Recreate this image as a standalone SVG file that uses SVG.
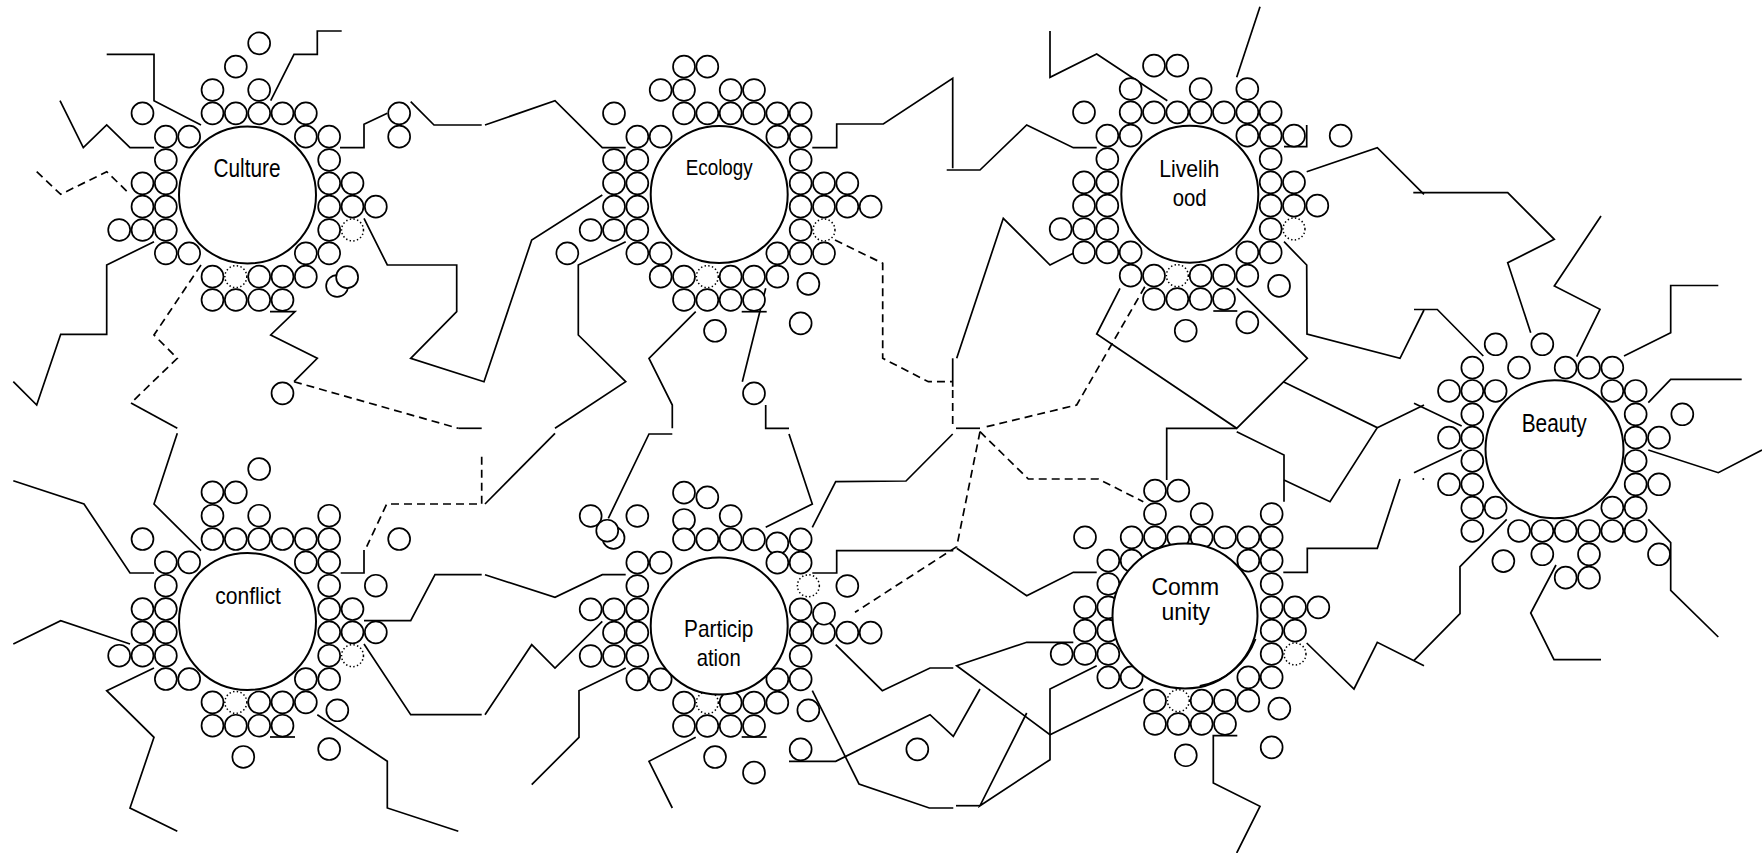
<svg xmlns="http://www.w3.org/2000/svg" width="1762" height="853" viewBox="0 0 1762 853">
<style>
.ln{fill:none;stroke:#000;stroke-width:1.7;stroke-linejoin:miter}
.dl{fill:none;stroke:#000;stroke-width:1.7;stroke-dasharray:8 5}
.sc circle{fill:#fff;stroke:#000;stroke-width:.073}
.sc circle.d{stroke-width:.065;stroke-dasharray:.06 .1}
.m{fill:#fff;stroke:#000;stroke-width:2}
.t{font-family:"Liberation Sans",Arial,sans-serif;fill:#000;text-anchor:middle}
</style>
<rect width="1762" height="853" fill="#fff"/>
<g id="connectors">
<polyline class="ln" points="106.7,54.3 154,54.3 154,100.7 201,125"/>
<polyline class="ln" points="341.7,31 317.3,31 317.3,54.3 294,54.3 270.7,100.7"/>
<polyline class="ln" points="60,100.7 83.3,147.7 106.7,125 130,147.7 154,147.7"/>
<polyline class="dl" points="36.7,171.7 60.7,194.3 106.7,171.7 130,194.3"/>
<polyline class="ln" points="340,147.7 364,147.7 364,124.3 387.3,113.3"/>
<polyline class="ln" points="410.7,101.7 434,125 481.7,125"/>
<polyline class="ln" points="485,125 555,100.7 602.3,147.7 625.7,147.7"/>
<polyline class="ln" points="364,218.3 387.3,265 456.7,265 456.7,311.7 410.7,358.3 484,381.7 531.7,240 602.3,195"/>
<polyline class="ln" points="154,241.7 106.7,265 106.7,334.3 60.7,334.3 36.7,405 13.3,381.7"/>
<polyline class="dl" points="201,265 154,335 177.3,358.3 131,403"/>
<polyline class="ln" points="131,403 177.3,428.3"/>
<polyline class="ln" points="177.3,433.3 154,504 201,550.7"/>
<polyline class="ln" points="270,311.7 295,311.7 270.7,335 317.3,358.3 294,381.7"/>
<polyline class="dl" points="294,381.7 458.3,428.3"/>
<polyline class="ln" points="458.3,428.3 481.7,428.3"/>
<polyline class="dl" points="481.7,456.7 481.7,504 386.7,504 366.7,546.7"/>
<polyline class="ln" points="364,550 364,573 340.7,573"/>
<polyline class="ln" points="625.7,241.7 578.3,265 578.3,335 625.7,381.7 555,428.3"/>
<polyline class="ln" points="555,433.3 485,504"/>
<polyline class="ln" points="695.7,311.7 649,358.3 672.3,405 672.3,428.3"/>
<polyline class="ln" points="672.3,434 649,434 608.3,518.3"/>
<polyline class="ln" points="765.7,288.3 742.3,381.7"/>
<polyline class="ln" points="741.7,311.7 766.7,311.7"/>
<polyline class="ln" points="765.7,405 765.7,428.3 789,428.3"/>
<polyline class="ln" points="789,434 812.3,504 765.7,527.3"/>
<polyline class="ln" points="812.3,527.3 835.7,481.7 906,481 952.7,434"/>
<polyline class="dl" points="835,240 882.7,263.3 882.7,358.3 928.3,381.7 952.7,381.7"/>
<polyline class="ln" points="1073.3,253.3 1050,265 1003.3,218.3 956.7,358.3"/>
<polyline class="ln" points="952.7,358.3 952.7,386.7"/>
<polyline class="dl" points="952.7,390 952.7,428.3"/>
<polyline class="ln" points="956,428.3 980,428.3"/>
<polyline class="ln" points="812.3,147.7 836.7,147.7 836.7,124 883.3,124 952.7,78.3 952.7,168.3"/>
<polyline class="ln" points="946.7,170 980,170 1026.7,125 1073.3,147.7 1096.7,147.7"/>
<polyline class="ln" points="1050,31 1050,77.3 1096.7,54 1167.3,100.7"/>
<polyline class="ln" points="1236.7,77.3 1260,6.7"/>
<polyline class="ln" points="1306.7,125 1306.7,146.7 1284,146.7"/>
<polyline class="ln" points="1213.3,311 1237.3,311"/>
<polyline class="ln" points="1306.7,171.7 1377.3,147.7 1424,194.3"/>
<polyline class="ln" points="1413.3,192.7 1507.7,192.7 1554.3,239.3 1507.7,262.7 1530.7,332.7"/>
<polyline class="ln" points="1601,216 1554.3,286 1600,309.3 1576.7,356.7"/>
<polyline class="ln" points="1718.3,285.5 1670.7,285.5 1670.7,332.7 1624,356"/>
<polyline class="ln" points="1648.3,402.7 1670.7,379.3 1741.7,379.3"/>
<polyline class="ln" points="1648.3,450 1718.3,472.7 1762,450"/>
<polyline class="ln" points="1648.3,519.3 1670.7,542.7 1670.7,590.3 1718.3,637"/>
<polyline class="ln" points="1556,565 1530.7,613 1554,659.7 1601,659.7"/>
<polyline class="ln" points="1506.7,519.3 1460,566.7 1460,613.7 1414,660.3"/>
<polyline class="ln" points="1306.7,643 1354,689 1377.3,642.3 1424,665.7"/>
<polyline class="ln" points="1284,241.7 1306.7,265 1307,334 1400,358.3 1424,310"/>
<polyline class="ln" points="1414,309.5 1437.3,309.5 1483.3,356"/>
<polyline class="ln" points="1236.7,431.7 1284,455 1284,501.7"/>
<polyline class="ln" points="1284,480 1330,501.7 1377.3,427.7 1283.3,381.7"/>
<polyline class="ln" points="1377.3,427.7 1424,405"/>
<polyline class="ln" points="1414,403.3 1461.7,426"/>
<polyline class="ln" points="1120,288.3 1096.7,334 1236.7,428.3 1307.3,358.3 1236.7,288.3"/>
<polyline class="ln" points="1166.7,480 1166.7,428.3 1236.7,428.3"/>
<polyline class="ln" points="1400,479 1377.3,548.3 1307.3,548.3 1307.3,572.3 1283.3,572.3"/>
<polyline class="ln" points="1414,472.7 1461.7,450"/>
<polyline class="ln" points="13.3,480.7 84,504 130,573 154,573"/>
<polyline class="ln" points="13.3,644 60.7,620.7 130,644"/>
<polyline class="ln" points="154,668 106.7,690.7 154,737.3 130,808 177.3,831.3"/>
<polyline class="ln" points="270,737 295,737"/>
<polyline class="ln" points="364,620.7 410.7,620.7 435,574.7 481.7,574.7"/>
<polyline class="ln" points="485,574.7 555,597.3 602.3,574.7 625.7,574.7"/>
<polyline class="ln" points="364,644 410.7,714.7 481.7,714.7"/>
<polyline class="ln" points="485,714.7 531.7,644.7 555,668 602.3,621.3"/>
<polyline class="ln" points="317.3,714.7 387.3,761.3 387.3,808 458.3,831.3"/>
<polyline class="ln" points="625.7,668 579,690.7 579,737.3 531.7,784.7"/>
<polyline class="ln" points="695.7,737.3 649,761.3 672.3,808"/>
<polyline class="ln" points="741.7,737 766.7,737"/>
<polyline class="ln" points="789,761.3 835.7,761.3 930,714.7 953.3,736.3 980,689"/>
<polyline class="ln" points="812.3,690.7 859,784 929.3,808 953.3,808"/>
<polyline class="ln" points="956,805.7 980,805.7"/>
<polyline class="ln" points="835.7,644.7 882.3,690.7 930,668 953.3,668"/>
<polyline class="ln" points="1073.3,642.3 1026.7,642.3 956.7,665.7 1050,734.7 1143.3,689"/>
<polyline class="ln" points="1096.7,665.7 1050,689 1050,759.7 980,805.7 1026.7,713"/>
<polyline class="ln" points="1237.3,735.7 1213.3,735.7 1213.3,783 1260,806.3 1236.7,853"/>
<polyline class="ln" points="812.3,573 836.7,573 836.7,550.7 953.3,550.7"/>
<polyline class="ln" points="956.7,548.3 1026.7,595.7 1073.3,572.3 1096.7,572.3"/>
<polyline class="dl" points="980,431.7 956.7,546.7 855,612.3"/>
<polyline class="dl" points="986.7,426.7 1076.7,405 1147,283"/>
<polyline class="dl" points="980,431.7 1028.3,479 1098.3,479 1143.3,501.7"/>
</g>
<g id="node-culture">
<g class="sc" transform="translate(247.5,195) scale(23.333)">
<circle cx=".5" cy="-6.5" r=".47"/>
<circle cx="-.5" cy="-5.5" r=".47"/>
<circle cx="-1.5" cy="-4.5" r=".47"/><circle cx=".5" cy="-4.5" r=".47"/>
<circle cx="-4.5" cy="-3.5" r=".47"/><circle cx="-1.5" cy="-3.5" r=".47"/><circle cx="-.5" cy="-3.5" r=".47"/><circle cx=".5" cy="-3.5" r=".47"/><circle cx="1.5" cy="-3.5" r=".47"/><circle cx="2.5" cy="-3.5" r=".47"/><circle cx="6.5" cy="-3.5" r=".47"/>
<circle cx="-3.5" cy="-2.5" r=".47"/><circle cx="-2.5" cy="-2.5" r=".47"/><circle cx="2.5" cy="-2.5" r=".47"/><circle cx="3.5" cy="-2.5" r=".47"/><circle cx="6.5" cy="-2.5" r=".47"/>
<circle cx="-3.5" cy="-1.5" r=".47"/><circle cx="3.5" cy="-1.5" r=".47"/>
<circle cx="-4.5" cy="-.5" r=".47"/><circle cx="-3.5" cy="-.5" r=".47"/><circle cx="3.5" cy="-.5" r=".47"/><circle cx="4.5" cy="-.5" r=".47"/>
<circle cx="-4.5" cy=".5" r=".47"/><circle cx="-3.5" cy=".5" r=".47"/><circle cx="3.5" cy=".5" r=".47"/><circle cx="4.5" cy=".5" r=".47"/><circle cx="5.5" cy=".5" r=".47"/>
<circle cx="-5.5" cy="1.5" r=".47"/><circle cx="-4.5" cy="1.5" r=".47"/><circle cx="-3.5" cy="1.5" r=".47"/><circle cx="3.5" cy="1.5" r=".47"/><circle class="d" cx="4.5" cy="1.5" r=".47"/>
<circle cx="-3.5" cy="2.5" r=".47"/><circle cx="-2.5" cy="2.5" r=".47"/><circle cx="2.5" cy="2.5" r=".47"/><circle cx="3.5" cy="2.5" r=".47"/>
<circle cx="-1.5" cy="3.5" r=".47"/><circle class="d" cx="-.5" cy="3.5" r=".47"/><circle cx=".5" cy="3.5" r=".47"/><circle cx="1.5" cy="3.5" r=".47"/><circle cx="2.5" cy="3.5" r=".47"/>
<circle cx="-1.5" cy="4.5" r=".47"/><circle cx="-.5" cy="4.5" r=".47"/><circle cx=".5" cy="4.5" r=".47"/><circle cx="1.5" cy="4.5" r=".47"/>
<circle cx="3.84" cy="3.9" r=".47"/><circle cx="4.27" cy="3.52" r=".47"/><circle cx="1.5" cy="8.5" r=".47"/>
</g>
<circle class="m" cx="247.5" cy="195" r="68.5"/>
<text class="t" x="247" y="177" font-size="25" textLength="67" lengthAdjust="spacingAndGlyphs">Culture</text>
</g>
<g id="node-ecology">
<g class="sc" transform="translate(719,195) scale(23.333)">
<circle cx="-1.5" cy="-5.5" r=".47"/><circle cx="-.5" cy="-5.5" r=".47"/>
<circle cx="-2.5" cy="-4.5" r=".47"/><circle cx="-1.5" cy="-4.5" r=".47"/><circle cx=".5" cy="-4.5" r=".47"/><circle cx="1.5" cy="-4.5" r=".47"/>
<circle cx="-4.5" cy="-3.5" r=".47"/><circle cx="-1.5" cy="-3.5" r=".47"/><circle cx="-.5" cy="-3.5" r=".47"/><circle cx=".5" cy="-3.5" r=".47"/><circle cx="1.5" cy="-3.5" r=".47"/><circle cx="2.5" cy="-3.5" r=".47"/><circle cx="3.5" cy="-3.5" r=".47"/>
<circle cx="-3.5" cy="-2.5" r=".47"/><circle cx="-2.5" cy="-2.5" r=".47"/><circle cx="2.5" cy="-2.5" r=".47"/><circle cx="3.5" cy="-2.5" r=".47"/>
<circle cx="-4.5" cy="-1.5" r=".47"/><circle cx="-3.5" cy="-1.5" r=".47"/><circle cx="3.5" cy="-1.5" r=".47"/>
<circle cx="-4.5" cy="-.5" r=".47"/><circle cx="-3.5" cy="-.5" r=".47"/><circle cx="3.5" cy="-.5" r=".47"/><circle cx="4.5" cy="-.5" r=".47"/><circle cx="5.5" cy="-.5" r=".47"/>
<circle cx="-4.5" cy=".5" r=".47"/><circle cx="-3.5" cy=".5" r=".47"/><circle cx="3.5" cy=".5" r=".47"/><circle cx="4.5" cy=".5" r=".47"/><circle cx="5.5" cy=".5" r=".47"/><circle cx="6.5" cy=".5" r=".47"/>
<circle cx="-5.5" cy="1.5" r=".47"/><circle cx="-4.5" cy="1.5" r=".47"/><circle cx="-3.5" cy="1.5" r=".47"/><circle cx="3.5" cy="1.5" r=".47"/><circle class="d" cx="4.5" cy="1.5" r=".47"/>
<circle cx="-6.5" cy="2.5" r=".47"/><circle cx="-3.5" cy="2.5" r=".47"/><circle cx="-2.5" cy="2.5" r=".47"/><circle cx="2.5" cy="2.5" r=".47"/><circle cx="3.5" cy="2.5" r=".47"/><circle cx="4.5" cy="2.5" r=".47"/>
<circle cx="-2.5" cy="3.5" r=".47"/><circle cx="-1.5" cy="3.5" r=".47"/><circle class="d" cx="-.5" cy="3.5" r=".47"/><circle cx=".5" cy="3.5" r=".47"/><circle cx="1.5" cy="3.5" r=".47"/><circle cx="2.5" cy="3.5" r=".47"/>
<circle cx="-1.5" cy="4.5" r=".47"/><circle cx="-.5" cy="4.5" r=".47"/><circle cx=".5" cy="4.5" r=".47"/><circle cx="1.5" cy="4.5" r=".47"/>
<circle cx="3.83" cy="3.81" r=".47"/><circle cx="3.5" cy="5.5" r=".47"/><circle cx="-.17" cy="5.82" r=".47"/><circle cx="1.5" cy="8.5" r=".47"/>
</g>
<circle class="m" cx="719.2" cy="194.5" r="68.5"/>
<text class="t" x="719.2" y="175" font-size="22" textLength="67" lengthAdjust="spacingAndGlyphs">Ecology</text>
</g>
<g id="node-livelihood">
<g class="sc" transform="translate(1189,194) scale(23.333)">
<circle cx="-1.5" cy="-5.5" r=".47"/><circle cx="-.5" cy="-5.5" r=".47"/>
<circle cx="-2.5" cy="-4.5" r=".47"/><circle cx=".5" cy="-4.5" r=".47"/><circle cx="2.5" cy="-4.5" r=".47"/>
<circle cx="-4.5" cy="-3.5" r=".47"/><circle cx="-2.5" cy="-3.5" r=".47"/><circle cx="-1.5" cy="-3.5" r=".47"/><circle cx="-.5" cy="-3.5" r=".47"/><circle cx=".5" cy="-3.5" r=".47"/><circle cx="1.5" cy="-3.5" r=".47"/><circle cx="2.5" cy="-3.5" r=".47"/><circle cx="3.5" cy="-3.5" r=".47"/>
<circle cx="-3.5" cy="-2.5" r=".47"/><circle cx="-2.5" cy="-2.5" r=".47"/><circle cx="2.5" cy="-2.5" r=".47"/><circle cx="3.5" cy="-2.5" r=".47"/><circle cx="4.5" cy="-2.5" r=".47"/><circle cx="6.5" cy="-2.5" r=".47"/>
<circle cx="-3.5" cy="-1.5" r=".47"/><circle cx="3.5" cy="-1.5" r=".47"/>
<circle cx="-4.5" cy="-.5" r=".47"/><circle cx="-3.5" cy="-.5" r=".47"/><circle cx="3.5" cy="-.5" r=".47"/><circle cx="4.5" cy="-.5" r=".47"/>
<circle cx="-4.5" cy=".5" r=".47"/><circle cx="-3.5" cy=".5" r=".47"/><circle cx="3.5" cy=".5" r=".47"/><circle cx="4.5" cy=".5" r=".47"/><circle cx="5.5" cy=".5" r=".47"/>
<circle cx="-5.5" cy="1.5" r=".47"/><circle cx="-4.5" cy="1.5" r=".47"/><circle cx="-3.5" cy="1.5" r=".47"/><circle cx="3.5" cy="1.5" r=".47"/><circle class="d" cx="4.5" cy="1.5" r=".47"/>
<circle cx="-4.5" cy="2.5" r=".47"/><circle cx="-3.5" cy="2.5" r=".47"/><circle cx="-2.5" cy="2.5" r=".47"/><circle cx="2.5" cy="2.5" r=".47"/><circle cx="3.5" cy="2.5" r=".47"/>
<circle cx="-2.5" cy="3.5" r=".47"/><circle cx="-1.5" cy="3.5" r=".47"/><circle class="d" cx="-.5" cy="3.5" r=".47"/><circle cx=".5" cy="3.5" r=".47"/><circle cx="1.5" cy="3.5" r=".47"/><circle cx="2.5" cy="3.5" r=".47"/>
<circle cx="-1.5" cy="4.5" r=".47"/><circle cx="-.5" cy="4.5" r=".47"/><circle cx=".5" cy="4.5" r=".47"/><circle cx="1.5" cy="4.5" r=".47"/>
<circle cx="3.86" cy="3.94" r=".47"/><circle cx="2.5" cy="5.5" r=".47"/><circle cx="-.14" cy="5.86" r=".47"/>
</g>
<circle class="m" cx="1189.8" cy="194.2" r="68.5"/>
<text class="t" x="1189.3" y="176.7" font-size="24" textLength="60" lengthAdjust="spacingAndGlyphs">Livelih</text>
<text class="t" x="1189.7" y="206" font-size="24" textLength="34" lengthAdjust="spacingAndGlyphs">ood</text>
</g>
<g id="node-beauty">
<g class="sc" transform="translate(1554,449.3) scale(23.333)">
<circle cx="-2.5" cy="-4.5" r=".47"/><circle cx="-.5" cy="-4.5" r=".47"/>
<circle cx="-3.5" cy="-3.5" r=".47"/><circle cx="-1.5" cy="-3.5" r=".47"/><circle cx=".5" cy="-3.5" r=".47"/><circle cx="1.5" cy="-3.5" r=".47"/><circle cx="2.5" cy="-3.5" r=".47"/>
<circle cx="-4.5" cy="-2.5" r=".47"/><circle cx="-3.5" cy="-2.5" r=".47"/><circle cx="-2.5" cy="-2.5" r=".47"/><circle cx="2.5" cy="-2.5" r=".47"/><circle cx="3.5" cy="-2.5" r=".47"/>
<circle cx="-3.5" cy="-1.5" r=".47"/><circle cx="3.5" cy="-1.5" r=".47"/><circle cx="5.5" cy="-1.5" r=".47"/>
<circle cx="-4.5" cy="-.5" r=".47"/><circle cx="-3.5" cy="-.5" r=".47"/><circle cx="3.5" cy="-.5" r=".47"/><circle cx="4.5" cy="-.5" r=".47"/>
<circle cx="-3.5" cy=".5" r=".47"/><circle cx="3.5" cy=".5" r=".47"/>
<circle cx="-4.5" cy="1.5" r=".47"/><circle cx="-3.5" cy="1.5" r=".47"/><circle cx="3.5" cy="1.5" r=".47"/><circle cx="4.5" cy="1.5" r=".47"/>
<circle cx="-3.5" cy="2.5" r=".47"/><circle cx="-2.5" cy="2.5" r=".47"/><circle cx="2.5" cy="2.5" r=".47"/><circle cx="3.5" cy="2.5" r=".47"/>
<circle cx="-3.5" cy="3.5" r=".47"/><circle cx="-1.5" cy="3.5" r=".47"/><circle cx="-.5" cy="3.5" r=".47"/><circle cx=".5" cy="3.5" r=".47"/><circle cx="1.5" cy="3.5" r=".47"/><circle cx="2.5" cy="3.5" r=".47"/><circle cx="3.5" cy="3.5" r=".47"/>
<circle cx="-.5" cy="4.5" r=".47"/><circle cx="1.5" cy="4.5" r=".47"/><circle cx="4.5" cy="4.5" r=".47"/>
<circle cx=".5" cy="5.5" r=".47"/><circle cx="1.5" cy="5.5" r=".47"/>
<circle cx="-2.17" cy="4.79" r=".47"/>
</g>
<circle class="m" cx="1554.5" cy="449.3" r="69"/>
<circle cx="1423.3" cy="479" r="1" fill="#000"/>
<text class="t" x="1554.2" y="431.7" font-size="25.5" textLength="65" lengthAdjust="spacingAndGlyphs">Beauty</text>
</g>
<g id="node-conflict">
<g class="sc" transform="translate(247.5,620.7) scale(23.333)">
<circle cx=".5" cy="-6.5" r=".47"/>
<circle cx="-1.5" cy="-5.5" r=".47"/><circle cx="-.5" cy="-5.5" r=".47"/>
<circle cx="-1.5" cy="-4.5" r=".47"/><circle cx=".5" cy="-4.5" r=".47"/><circle cx="3.5" cy="-4.5" r=".47"/>
<circle cx="-4.5" cy="-3.5" r=".47"/><circle cx="-1.5" cy="-3.5" r=".47"/><circle cx="-.5" cy="-3.5" r=".47"/><circle cx=".5" cy="-3.5" r=".47"/><circle cx="1.5" cy="-3.5" r=".47"/><circle cx="2.5" cy="-3.5" r=".47"/><circle cx="3.5" cy="-3.5" r=".47"/><circle cx="6.5" cy="-3.5" r=".47"/>
<circle cx="-3.5" cy="-2.5" r=".47"/><circle cx="-2.5" cy="-2.5" r=".47"/><circle cx="2.5" cy="-2.5" r=".47"/><circle cx="3.5" cy="-2.5" r=".47"/>
<circle cx="-3.5" cy="-1.5" r=".47"/><circle cx="3.5" cy="-1.5" r=".47"/><circle cx="5.5" cy="-1.5" r=".47"/>
<circle cx="-4.5" cy="-.5" r=".47"/><circle cx="-3.5" cy="-.5" r=".47"/><circle cx="3.5" cy="-.5" r=".47"/><circle cx="4.5" cy="-.5" r=".47"/>
<circle cx="-4.5" cy=".5" r=".47"/><circle cx="-3.5" cy=".5" r=".47"/><circle cx="3.5" cy=".5" r=".47"/><circle cx="4.5" cy=".5" r=".47"/><circle cx="5.5" cy=".5" r=".47"/>
<circle cx="-5.5" cy="1.5" r=".47"/><circle cx="-4.5" cy="1.5" r=".47"/><circle cx="-3.5" cy="1.5" r=".47"/><circle cx="3.5" cy="1.5" r=".47"/><circle class="d" cx="4.5" cy="1.5" r=".47"/>
<circle cx="-3.5" cy="2.5" r=".47"/><circle cx="-2.5" cy="2.5" r=".47"/><circle cx="2.5" cy="2.5" r=".47"/><circle cx="3.5" cy="2.5" r=".47"/>
<circle cx="-1.5" cy="3.5" r=".47"/><circle class="d" cx="-.5" cy="3.5" r=".47"/><circle cx=".5" cy="3.5" r=".47"/><circle cx="1.5" cy="3.5" r=".47"/><circle cx="2.5" cy="3.5" r=".47"/>
<circle cx="-1.5" cy="4.5" r=".47"/><circle cx="-.5" cy="4.5" r=".47"/><circle cx=".5" cy="4.5" r=".47"/><circle cx="1.5" cy="4.5" r=".47"/>
<circle cx="3.85" cy="3.84" r=".47"/><circle cx="-.18" cy="5.84" r=".47"/><circle cx="3.5" cy="5.5" r=".47"/>
</g>
<circle class="m" cx="247.5" cy="621.5" r="68.5"/>
<text class="t" x="248" y="603.7" font-size="24.5" textLength="65.7" lengthAdjust="spacingAndGlyphs">conflict</text>
</g>
<g id="node-participation">
<g class="sc" transform="translate(719,621) scale(23.333)">
<circle cx="-1.5" cy="-5.5" r=".47"/><circle cx="-.5" cy="-5.3" r=".47"/>
<circle cx="-1.5" cy="-4.33" r=".47"/><circle cx=".5" cy="-4.5" r=".47"/><circle cx="-3.5" cy="-4.5" r=".47"/>
<circle cx="-4.52" cy="-3.56" r=".47"/><circle cx="-5.5" cy="-4.5" r=".47"/><circle cx="-4.79" cy="-3.87" r=".47"/>
<circle cx="-1.5" cy="-3.5" r=".47"/><circle cx="-.5" cy="-3.5" r=".47"/><circle cx=".5" cy="-3.5" r=".47"/><circle cx="1.5" cy="-3.5" r=".47"/><circle cx="3.5" cy="-3.5" r=".47"/><circle cx="2.5" cy="-3.33" r=".47"/>
<circle cx="-3.5" cy="-2.5" r=".47"/><circle cx="-2.5" cy="-2.5" r=".47"/><circle cx="2.5" cy="-2.5" r=".47"/><circle cx="3.5" cy="-2.5" r=".47"/>
<circle cx="-3.5" cy="-1.5" r=".47"/><circle cx="5.5" cy="-1.5" r=".47"/><circle class="d" cx="3.83" cy="-1.51" r=".47"/>
<circle cx="-5.5" cy="-.5" r=".47"/><circle cx="-4.5" cy="-.5" r=".47"/><circle cx="-3.5" cy="-.5" r=".47"/><circle cx="3.5" cy="-.5" r=".47"/>
<circle cx="-4.5" cy=".5" r=".47"/><circle cx="-3.5" cy=".5" r=".47"/><circle cx="3.5" cy=".5" r=".47"/><circle cx="4.5" cy=".5" r=".47"/><circle cx="5.5" cy=".5" r=".47"/><circle cx="6.5" cy=".5" r=".47"/>
<circle cx="4.5" cy="-.31" r=".47"/>
<circle cx="-5.5" cy="1.5" r=".47"/><circle cx="-4.5" cy="1.5" r=".47"/><circle cx="-3.5" cy="1.5" r=".47"/><circle cx="3.5" cy="1.5" r=".47"/>
<circle cx="-3.5" cy="2.5" r=".47"/><circle cx="-2.5" cy="2.5" r=".47"/><circle cx="2.5" cy="2.5" r=".47"/><circle cx="3.5" cy="2.5" r=".47"/>
<circle cx="-1.5" cy="3.5" r=".47"/><circle class="d" cx="-.5" cy="3.5" r=".47"/><circle cx=".5" cy="3.5" r=".47"/><circle cx="1.5" cy="3.5" r=".47"/><circle cx="2.5" cy="3.5" r=".47"/><circle cx="3.83" cy="3.83" r=".47"/>
<circle cx="-1.5" cy="4.5" r=".47"/><circle cx="-.5" cy="4.5" r=".47"/><circle cx=".5" cy="4.5" r=".47"/><circle cx="1.5" cy="4.5" r=".47"/>
<circle cx="-.17" cy="5.83" r=".47"/><circle cx="1.5" cy="6.5" r=".47"/><circle cx="3.5" cy="5.5" r=".47"/><circle cx="8.5" cy="5.5" r=".47"/>
</g>
<circle class="m" cx="719.2" cy="626" r="68.5"/>
<text class="t" x="718.7" y="637" font-size="24" textLength="69.3" lengthAdjust="spacingAndGlyphs">Particip</text>
<text class="t" x="718.7" y="666.3" font-size="24" textLength="44" lengthAdjust="spacingAndGlyphs">ation</text>
</g>
<g id="node-community">
<g class="sc" transform="translate(1190,619) scale(23.333)">
<circle cx="-1.5" cy="-5.5" r=".47"/><circle cx="-.5" cy="-5.5" r=".47"/>
<circle cx="-1.5" cy="-4.5" r=".47"/><circle cx=".5" cy="-4.5" r=".47"/><circle cx="3.5" cy="-4.5" r=".47"/>
<circle cx="-4.5" cy="-3.5" r=".47"/><circle cx="-2.5" cy="-3.5" r=".47"/><circle cx="-1.5" cy="-3.5" r=".47"/><circle cx="-.5" cy="-3.5" r=".47"/><circle cx=".5" cy="-3.5" r=".47"/><circle cx="1.5" cy="-3.5" r=".47"/><circle cx="2.5" cy="-3.5" r=".47"/><circle cx="3.5" cy="-3.5" r=".47"/>
<circle cx="-3.5" cy="-2.5" r=".47"/><circle cx="-2.5" cy="-2.5" r=".47"/><circle cx="2.5" cy="-2.5" r=".47"/><circle cx="3.5" cy="-2.5" r=".47"/>
<circle cx="-3.5" cy="-1.5" r=".47"/><circle cx="3.5" cy="-1.5" r=".47"/>
<circle cx="-4.5" cy="-.5" r=".47"/><circle cx="-3.5" cy="-.5" r=".47"/><circle cx="3.5" cy="-.5" r=".47"/><circle cx="4.5" cy="-.5" r=".47"/><circle cx="5.5" cy="-.5" r=".47"/>
<circle cx="-4.5" cy=".5" r=".47"/><circle cx="-3.5" cy=".5" r=".47"/><circle cx="3.5" cy=".5" r=".47"/><circle cx="4.5" cy=".5" r=".47"/>
<circle cx="-5.5" cy="1.5" r=".47"/><circle cx="-4.5" cy="1.5" r=".47"/><circle cx="-3.5" cy="1.5" r=".47"/><circle cx="3.5" cy="1.5" r=".47"/><circle class="d" cx="4.5" cy="1.5" r=".47"/>
<circle cx="-3.5" cy="2.5" r=".47"/><circle cx="-2.5" cy="2.5" r=".47"/><circle cx="2.5" cy="2.5" r=".47"/><circle cx="3.5" cy="2.5" r=".47"/>
<circle cx="-1.5" cy="3.5" r=".47"/><circle class="d" cx="-.5" cy="3.5" r=".47"/><circle cx=".5" cy="3.5" r=".47"/><circle cx="1.5" cy="3.5" r=".47"/><circle cx="2.5" cy="3.5" r=".47"/><circle cx="3.83" cy="3.84" r=".47"/>
<circle cx="-1.5" cy="4.5" r=".47"/><circle cx="-.5" cy="4.5" r=".47"/><circle cx=".5" cy="4.5" r=".47"/><circle cx="1.5" cy="4.5" r=".47"/>
<circle cx="-.18" cy="5.84" r=".47"/><circle cx="3.5" cy="5.5" r=".47"/>
</g>
<circle class="m" cx="1185" cy="616" r="72.5"/>
<path d="M1255.6,639 A73,73 0 0 1 1199.7,685.9" fill="none" stroke="#000" stroke-width="1.7"/>
<text class="t" x="1185.3" y="594.7" font-size="23">Comm</text>
<text class="t" x="1185.8" y="619.7" font-size="23">unity</text>
</g>
</svg>
